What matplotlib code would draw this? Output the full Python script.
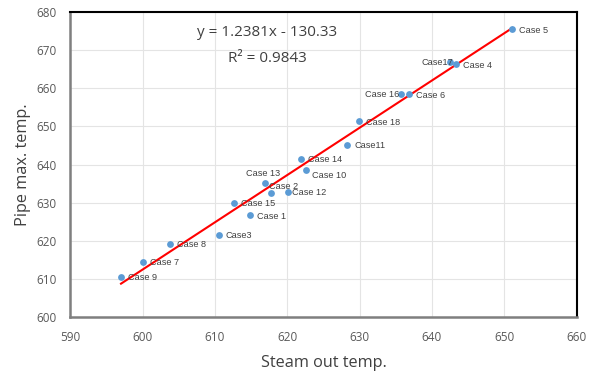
import matplotlib
matplotlib.use('Agg')
import matplotlib.pyplot as plt
import numpy as np

# Steam outlet temperature vs. maximum pipe temperature per case
cases = ['Case 5', 'Case17', 'Case 4', 'Case 16', 'Case 6', 'Case 18', 'Case11',
         'Case 14', 'Case 10', 'Case 13', 'Case 2', 'Case 12', 'Case 15', 'Case 1',
         'Case3', 'Case 8', 'Case 7', 'Case 9']
steam_out = [651.1, 642.5, 643.3, 635.7, 636.8, 629.9, 628.3,
             621.9, 622.6, 616.9, 617.8, 620.1, 612.6, 614.8,
             610.5, 603.8, 600.1, 597.0]
pipe_max = [675.5, 666.8, 666.3, 658.5, 658.4, 651.4, 645.2,
            641.5, 638.5, 635.3, 632.7, 632.8, 630.0, 626.8,
            621.6, 619.3, 614.6, 610.6]

# linear trendline coefficients
slope = 1.2381
intercept = -130.33
r_squared = 0.9843

# label offsets in pixels (dx, dy, horizontal alignment)
label_pos = {
    'Case17': (3, 0, 'right'),
    'Case 16': (-2, 0, 'right'),
    'Case 13': (-2, 9, 'center'),
    'Case 2': (-2, 6, 'left'),
    'Case 10': (6, -5, 'left'),
    'Case 12': (4, 0, 'left'),
}

text_gray = '#595959'
plt.rcParams['font.family'] = ['Open Sans', 'DejaVu Sans']

fig = plt.figure(figsize=(5.94, 3.71), dpi=100)
ax = fig.add_axes([0.1185, 0.1447, 0.8522, 0.823])

ax.set_xlim(590, 660)
ax.set_ylim(600, 680)
ax.set_xticks(np.arange(590, 661, 10))
ax.set_yticks(np.arange(600, 681, 10))
ax.grid(True, color='#e4e4e4', linewidth=0.8)
ax.set_axisbelow(True)

x_fit = np.array([min(steam_out), max(steam_out)])
ax.plot(x_fit, slope * x_fit + intercept, color='#ff0000', linewidth=1.5, zorder=2)
ax.scatter(steam_out, pipe_max, s=24, color='#5b9bd5', zorder=3, linewidths=0)

for name, x, y in zip(cases, steam_out, pipe_max):
    dx, dy, ha = label_pos.get(name, (7, -1, 'left'))
    ax.annotate(name, (x, y), xytext=(dx, dy), textcoords='offset pixels',
                ha=ha, va='center', fontsize=6.6, color='#404040',
                family='Liberation Sans', zorder=4)

ax.text(617.2, 674.7, 'y = 1.2381x - 130.33', ha='center', va='center',
        fontsize=11, color='#404040')
ax.text(617.2, 667.8, 'R² = %.4f' % r_squared, ha='center', va='center',
        fontsize=11, color='#404040')

ax.set_xlabel('Steam out temp.', fontsize=11.7, color='#404040', labelpad=7.5)
ax.set_ylabel('Pipe max. temp.', fontsize=11.7, color='#404040', labelpad=3.5)
ax.tick_params(axis='both', length=0, labelsize=8.5, labelcolor=text_gray)
ax.tick_params(axis='x', pad=10)
ax.tick_params(axis='y', pad=10)

for side in ['top', 'right']:
    ax.spines[side].set_color('black')
    ax.spines[side].set_linewidth(1.5)
for side in ['left', 'bottom']:
    ax.spines[side].set_color('#7f7f7f')
    ax.spines[side].set_linewidth(1.8)

fig.savefig('out.png', dpi=100)
